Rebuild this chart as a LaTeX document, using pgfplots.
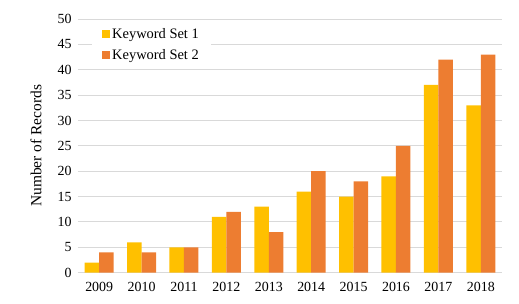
\documentclass[border=0pt]{standalone}
\usepackage{fontspec}
\setmainfont{Liberation Serif}
\usepackage{pgfplots}
\pgfplotsset{compat=1.18}
\definecolor{ksone}{HTML}{FFC000}
\definecolor{kstwo}{HTML}{ED7D31}
\definecolor{gridc}{HTML}{D9D9D9}
\begin{document}
\begin{tikzpicture}
\path[use as bounding box] (-78bp,-31.3bp) rectangle (441bp,272.7bp);
\begin{axis}[
  at={(0,0)}, anchor=south west,
  scale only axis, width=424bp, height=253.7bp,
  xmin=-0.5, xmax=9.5, ymin=0, ymax=50,
  ytick={0,5,...,50},
  xtick={0,...,9},
  xticklabels={2009,2010,2011,2012,2013,2014,2015,2016,2017,2018},
  /pgf/number format/assume math mode=true,
  ymajorgrids, grid style={gridc, line width=1bp},
  axis line style={draw=none},
  major tick length=0pt,
  ticklabel style={font=\fontsize{14}{16}\selectfont},
  yticklabel style={xshift=-3bp},
  xticklabel style={yshift=-6bp},
  ylabel={Number of Records},
  ylabel style={at={(axis description cs:-0.099,0.5)}, anchor=center, font=\fontsize{15.5}{17}\selectfont},
  ybar=0pt, bar width=14.5bp,
  legend style={at={(axis description cs:0.033,0.978)}, anchor=north west, draw=none, fill=white,
     font=\fontsize{14.5}{17}\selectfont, row sep=5bp, inner xsep=10bp, inner ysep=2bp},
  legend cell align=left,
  legend image code/.code={\fill[#1] (1.5bp,-3.8bp) rectangle (9.5bp,4.2bp);},
]
\addplot[fill=ksone, draw=none, bar shift=-7.25bp] coordinates {
 (0,2) (1,6) (2,5) (3,11) (4,13) (5,16) (6,15) (7,19) (8,37) (9,33)};
\addlegendentry{Keyword Set 1}
\addplot[fill=kstwo, draw=none, bar shift=7.25bp] coordinates {
 (0,4) (1,4) (2,5) (3,12) (4,8) (5,20) (6,18) (7,25) (8,42) (9,43)};
\addlegendentry{Keyword Set 2}
\end{axis}
\end{tikzpicture}
\end{document}
